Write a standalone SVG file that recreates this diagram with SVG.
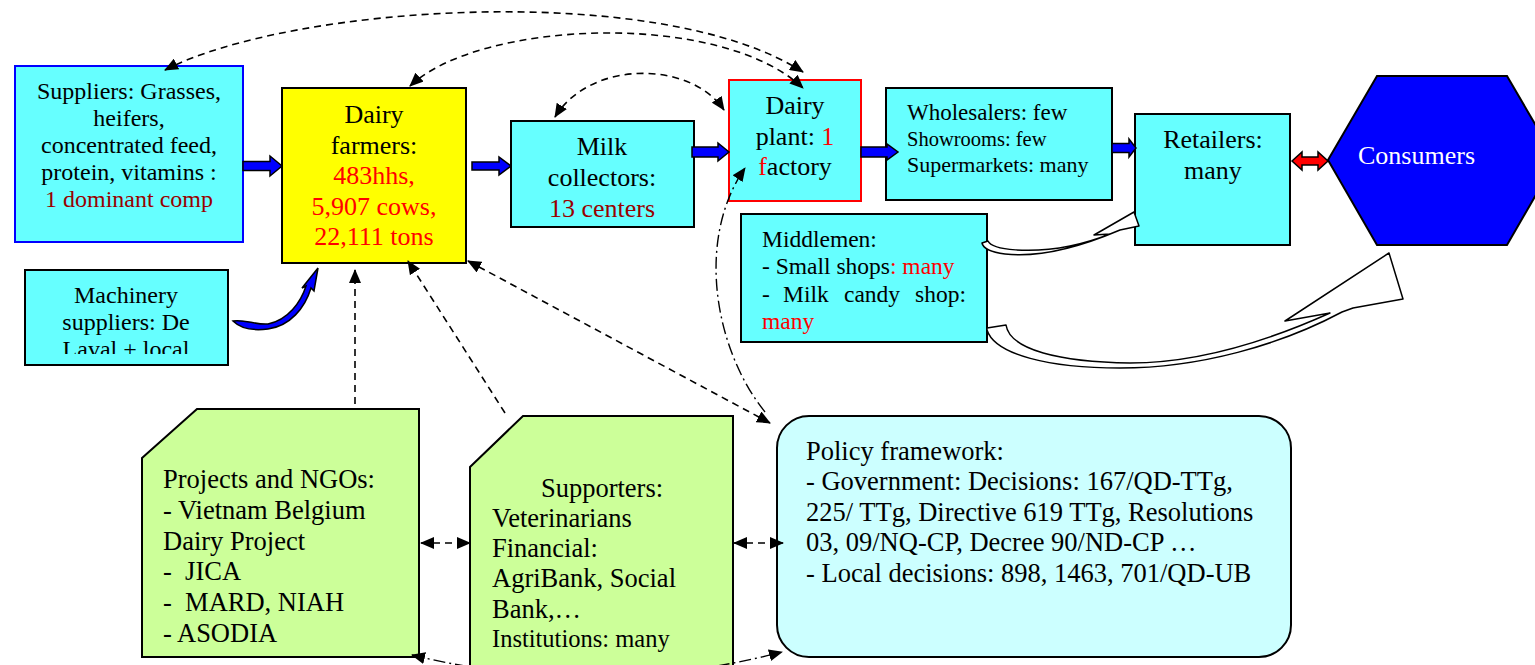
<svg xmlns="http://www.w3.org/2000/svg" width="1535" height="665" viewBox="0 0 1535 665">
<style>
text{font-family:"Liberation Serif","Times New Roman",serif;fill:#000;white-space:pre}
.c{text-anchor:middle}
.box{fill:#66ffff;stroke:#000;stroke-width:2}
.grn{fill:#ccff99;stroke:#000;stroke-width:2}
.red{fill:#ff0000}
.dred{fill:#990000}
.blk{fill:#0000ff;stroke:#000;stroke-width:1.5}
.dash{fill:none;stroke:#000;stroke-width:1.6;stroke-dasharray:7 5}
.dd{fill:none;stroke:#000;stroke-width:1.4;stroke-dasharray:12 4 2 4}
.call{fill:#fff;stroke:#000;stroke-width:1.5;stroke-linejoin:round}
</style>
<defs>
<marker id="ah" viewBox="0 0 14 12" refX="13" refY="6" markerWidth="14" markerHeight="12" markerUnits="userSpaceOnUse" orient="auto-start-reverse">
<path d="M0,0 L14,6 L0,12 Z" fill="#000"/>
</marker>
<clipPath id="mclip"><rect x="25" y="270" width="203" height="84"/></clipPath>
</defs>

<g id="suppliers">
<rect x="15" y="66" width="228" height="176" fill="#66ffff" stroke="#0000ff" stroke-width="2"/>
<text class="c" x="129" font-size="24"><tspan x="129" y="99">Suppliers: Grasses,</tspan><tspan x="129" y="126">heifers,</tspan><tspan x="129" y="153">concentrated feed,</tspan><tspan x="129" y="180">protein, vitamins :</tspan><tspan x="129" y="207" class="dred">1 dominant comp</tspan></text>
</g>

<g id="farmers">
<rect x="282" y="88" width="184" height="175" fill="#ffff00" stroke="#000" stroke-width="2"/>
<text class="c" font-size="26"><tspan x="374" y="123">Dairy</tspan><tspan x="374" y="154">farmers:</tspan><tspan x="374" y="184" class="red">483hhs,</tspan><tspan x="374" y="215" class="red">5,907 cows,</tspan><tspan x="374" y="245" class="red">22,111 tons</tspan></text>
</g>

<g id="collectors">
<rect class="box" x="511" y="121" width="183" height="106"/>
<text class="c" font-size="26"><tspan x="602" y="155">Milk</tspan><tspan x="602" y="186">collectors:</tspan><tspan x="602" y="217" class="dred">13 centers</tspan></text>
</g>

<g id="plant">
<rect x="729" y="80" width="132" height="121" fill="#66ffff" stroke="#ff0000" stroke-width="2"/>
<text class="c" font-size="26"><tspan x="795" y="114">Dairy</tspan><tspan x="795" y="145">plant: <tspan class="red">1</tspan></tspan><tspan x="795" y="175"><tspan class="red">f</tspan>actory</tspan></text>
</g>

<g id="wholesalers">
<rect class="box" x="886" y="88" width="226" height="112"/>
<text x="907" y="120" font-size="23">Wholesalers: few</text>
<text x="907" y="146" font-size="20.5">Showrooms: few</text>
<text x="907" y="172" font-size="22">Supermarkets: many</text>
</g>

<g id="retailers">
<rect class="box" x="1135" y="114" width="155" height="131"/>
<text class="c" font-size="26"><tspan x="1213" y="148">Retailers:</tspan><tspan x="1213" y="179">many</tspan></text>
</g>

<g id="consumers">
<polygon points="1328,160 1377,76 1507,76 1556,160 1507,245 1377,245" fill="#0000ff" stroke="#000" stroke-width="2"/>
<text x="1358" y="164" font-size="26" style="fill:#fff">Consumers</text>
</g>

<g id="machinery">
<rect class="box" x="25" y="270" width="203" height="95"/>
<g clip-path="url(#mclip)">
<text class="c" font-size="24"><tspan x="126" y="303">Machinery</tspan><tspan x="126" y="330">suppliers: De</tspan><tspan x="126" y="357">Laval + local</tspan></text>
</g>
</g>

<g id="middlemen">
<rect class="box" x="741" y="214" width="246" height="128"/>
<text font-size="23.5"><tspan x="762" y="247">Middlemen:</tspan><tspan x="762" y="274">- Small shops<tspan class="red">: many</tspan></tspan></text>
<text font-size="23.5" y="302"><tspan x="762">-</tspan><tspan x="783">Milk</tspan><tspan x="844">candy</tspan><tspan x="915">shop:</tspan></text>
<text font-size="23.5" x="762" y="329" class="red">many</text>
</g>

<g id="projects">
<polygon class="grn" points="142,458 197,409 419,409 419,657 142,657"/>
<text font-size="26.5"><tspan x="163" y="488">Projects and NGOs:</tspan><tspan x="163" y="519">- Vietnam Belgium</tspan><tspan x="163" y="550">Dairy Project</tspan><tspan x="163" y="580">-  JICA</tspan><tspan x="163" y="611">-  MARD, NIAH</tspan><tspan x="163" y="642">- ASODIA</tspan></text>
</g>

<g id="supporters">
<polygon class="grn" points="470,467 523,416 733,416 733,672 470,672"/>
<text font-size="26.5"><tspan x="602" y="497" text-anchor="middle">Supporters:</tspan><tspan x="492" y="527">Veterinarians</tspan><tspan x="492" y="557">Financial:</tspan><tspan x="492" y="587">AgriBank, Social</tspan><tspan x="492" y="618">Bank,…</tspan></text>
<text x="492" y="647" font-size="24.5">Institutions: many</text>
</g>

<g id="policy">
<rect x="777" y="416" width="514" height="241" rx="32" ry="32" fill="#ccffff" stroke="#000" stroke-width="2"/>
<text font-size="26.5"><tspan x="806" y="460">Policy framework:</tspan><tspan x="806" y="490">- Government: Decisions: 167/QD-TTg,</tspan><tspan x="806" y="521">225/ TTg, Directive 619 TTg, Resolutions</tspan><tspan x="806" y="551">03, 09/NQ-CP, Decree 90/ND-CP …</tspan><tspan x="806" y="582">- Local decisions: 898, 1463, 701/QD-UB</tspan></text>
</g>

<g id="connectors">
<polygon class="blk" points="243,161.5 270,161.5 270,156 282,166 270,176 270,170.5 243,170.5"/>
<polygon class="blk" points="472,162 499,162 499,157 511,166 499,175 499,170 472,170"/>
<polygon class="blk" points="692,147 718,147 718,143 729,152 718,161 718,157 692,157"/>
<polygon class="blk" points="861,147 887,147 887,144 898,152 887,160 887,157 861,157"/>
<polygon class="blk" points="1112,143.5 1129,143.5 1129,139 1136,148 1129,157 1129,152.5 1112,152.5"/>
<polygon points="1292,161 1302,152 1302,157 1318,157 1318,152 1328,161 1318,170 1318,165 1302,165 1302,170" fill="#ff0000" stroke="#000" stroke-width="1.5"/>
<path class="blk" d="M233,321 C245,319 255,325 268,324 C288,320 301,302 306,286 L302,288 L318,268 L314,291 L311,288 C305,308 290,326 268,329 C252,331 240,328 233,321 Z"/>
<path class="call" d="M982,243 L988,241 C992,250 1030,254 1070,246 C1085,243 1100,238 1110,234 L1094,235 L1134,212 L1139,226 L1120,230 C1080,247 1040,258 1005,254 C990,252 983,248 982,243 Z"/>
<path class="call" d="M987,328 L1006,325 C1010,350 1060,362 1130,363 C1200,363 1270,340 1330,313 L1285,321 L1389,253 L1403,299 L1353,308 L1342,312 C1280,345 1200,368 1120,368 C1050,368 995,355 987,330 Z"/>
<path class="dash" d="M165,70 C290,5 660,-20 803,72" marker-start="url(#ah)" marker-end="url(#ah)"/>
<path class="dash" d="M410,86 C480,20 720,10 803,88" marker-start="url(#ah)" marker-end="url(#ah)"/>
<path class="dash" d="M555,117 C590,60 690,60 724,110" marker-start="url(#ah)" marker-end="url(#ah)"/>
<path class="dash" d="M355,404 L355,270" marker-end="url(#ah)"/>
<path class="dash" d="M505,413 L408,261" marker-end="url(#ah)"/>
<path class="dash" d="M468,261 L770,423" marker-start="url(#ah)" marker-end="url(#ah)"/>
<path class="dd" d="M765,412 C715,350 695,240 745,168" marker-end="url(#ah)"/>
<path class="dash" d="M421,543 L470,543" marker-start="url(#ah)" marker-end="url(#ah)"/>
<path class="dash" d="M734,543 L783,543" marker-start="url(#ah)" marker-end="url(#ah)"/>
<path class="dd" d="M412,655 Q597,700 782,652" marker-start="url(#ah)" marker-end="url(#ah)"/>
</g>
</svg>
